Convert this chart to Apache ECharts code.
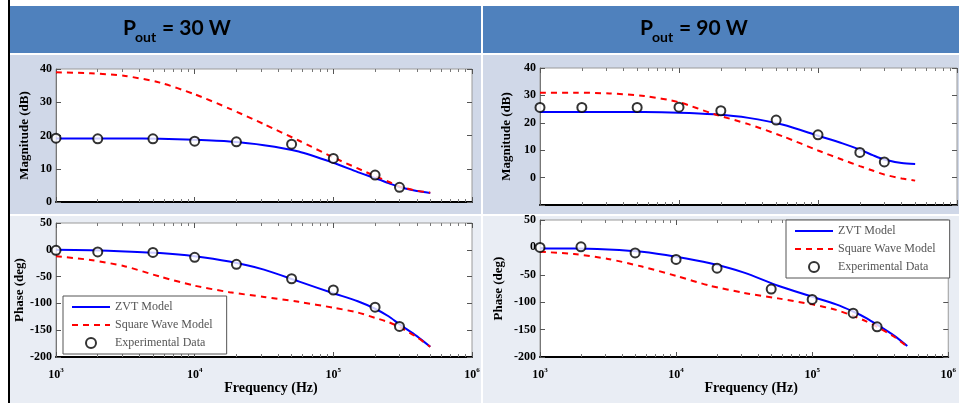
<!DOCTYPE html>
<html>
<head>
<meta charset="utf-8">
<script src="https://cdn.jsdelivr.net/npm/echarts@6/dist/echarts.min.js"></script>
<style>
  html, body { margin: 0; padding: 0; background: #fff; }
  #chart { width: 959px; height: 403px; }
</style>
</head>
<body>
<div id="chart"></div>
<script>
// frequencies (Hz)
var freqModel = [1000, 1780, 3160, 5620, 10000, 17800, 31600, 56200, 100000,
                 150000, 200000, 250000, 300000, 400000, 500000];
var freqExp = [1000, 2000, 5000, 10000, 20000, 50000, 100000, 200000, 300000];

// Pout = 30 W
var zvtMag30 = [19.1, 19.1, 19.1, 19.0, 18.7, 18.2, 17.1, 15.2, 11.8, 9.0, 7.2, 5.7, 4.5, 3.3, 2.7];
var sqMag30  = [39.0, 38.7, 37.9, 35.9, 32.4, 28.1, 23.4, 18.5, 13.4, 10.1, 7.8, 6.1, 4.7, 3.4, 2.8];
var expMag30 = [19.2, 19.0, 19.0, 18.3, 18.1, 17.4, 13.1, 8.1, 4.4];
var zvtPh30  = [0, -1, -3, -6, -12, -22, -37, -59, -81, -96, -110, -124, -139, -161, -181];
var sqPh30   = [-12, -19, -31, -50, -67, -79, -88, -97, -108, -117, -127, -135, -144, -163, -181];
var expPh30  = [-1, -4, -5, -14, -27, -54, -75, -107, -143];

// Pout = 90 W
var zvtMag90 = [23.9, 23.9, 23.9, 23.9, 23.7, 23.1, 21.8, 19.3, 15.3, 12.5, 10.2, 8.1, 6.6, 5.3, 5.0];
var sqMag90  = [31.0, 31.0, 30.7, 29.8, 27.5, 23.2, 19.5, 15.0, 9.9, 6.5, 4.2, 2.5, 1.1, -0.3, -1.1];
var expMag90 = [25.6, 25.6, 25.6, 25.7, 24.4, 21.0, 15.6, 9.2, 5.7];
var zvtPh90  = [-2, -2, -4, -8, -17, -29, -46, -70, -90, -104, -117, -129, -141, -161, -180];
var sqPh90   = [-8, -12, -21, -35, -52, -70, -83, -93, -104, -114, -125, -135, -145, -163, -181];
var expPh90  = [0, 1, -10, -22, -38, -76, -95, -120, -145];

var seriesNames = ['ZVT Model', 'Square Wave Model', 'Experimental Data'];
var headers = ['30 W', '90 W'];

function pairs(xs, ys) {
    return xs.map(function (x, i) { return [x, ys[i]]; });
}

// minor tick positions (log10 units) for 2..9 in each decade
var minorTicks = [];
for (var d = 3; d < 6; d++) {
    for (var k = 2; k <= 9; k++) minorTicks.push(Math.log10(k * Math.pow(10, d)));
}

var serif = 'Liberation Serif';

var panels = [
    { left: 56,  top: 69,  width: 416, height: 133, yMin: 0,    yMax: 40, yStep: 10, yName: 'Magnitude (dB)', nameGap: 25, xLabels: false,
      zvt: zvtMag30, sq: sqMag30, exp: expMag30 },
    { left: 56,  top: 223, width: 416, height: 134, yMin: -200, yMax: 50, yStep: 50, yName: 'Phase (deg)', nameGap: 25, xLabels: true,
      zvt: zvtPh30, sq: sqPh30, exp: expPh30 },
    { left: 540, top: 68,  width: 417, height: 137, yMin: -10,  yMax: 40, yStep: 10, yName: 'Magnitude (dB)', nameGap: 27, xLabels: false,
      zvt: zvtMag90, sq: sqMag90, exp: expMag90 },
    { left: 540, top: 220, width: 417, height: 137, yMin: -200, yMax: 50, yStep: 50, yName: 'Phase (deg)', nameGap: 35, xLabels: true,
      zvt: zvtPh90, sq: sqPh90, exp: expPh90 }
];

var grids = [], xAxes = [], yAxes = [], series = [];

panels.forEach(function (p, i) {
    grids.push({
        left: p.left, top: p.top, width: p.width, height: p.height,
        show: true, backgroundColor: '#fff', borderColor: '#9a9a9a', borderWidth: 1
    });
    // main log axis
    xAxes.push({
        type: 'log', logBase: 10, gridIndex: i, min: 1000, max: 1000000, position: 'bottom',
        axisLine: { onZero: false, lineStyle: { color: '#000', width: 2 } },
        axisTick: { inside: true, length: 5, lineStyle: { color: '#555' } },
        splitLine: { show: false },
        axisLabel: {
            show: p.xLabels, margin: 10,
            formatter: function (v) { return '{b|10}{s|' + Math.round(Math.log10(v)) + '}'; },
            rich: {
                b: { fontFamily: serif, fontWeight: 'bold', fontSize: 12, color: '#000' },
                s: { fontFamily: serif, fontWeight: 'bold', fontSize: 7, color: '#000', padding: [0, 0, 8, 0] }
            }
        },
        name: p.xLabels ? 'Frequency (Hz)' : '', nameLocation: 'middle', nameGap: 22,
        nameTextStyle: { fontFamily: serif, fontWeight: 'bold', fontSize: 14, color: '#000', padding: [0, 0, 0, 14] }
    });
    // bottom minor ticks
    xAxes.push({
        type: 'value', gridIndex: i, min: 3, max: 6, position: 'bottom',
        axisLine: { show: false, onZero: false },
        axisTick: { inside: true, length: 3, customValues: minorTicks, lineStyle: { color: '#777' } },
        axisLabel: { show: false }, splitLine: { show: false }
    });
    // top major ticks
    xAxes.push({
        type: 'value', gridIndex: i, min: 3, max: 6, interval: 1, position: 'top',
        axisLine: { show: false, onZero: false },
        axisTick: { inside: true, length: 5, lineStyle: { color: '#555' } },
        axisLabel: { show: false }, splitLine: { show: false }
    });
    // top minor ticks
    xAxes.push({
        type: 'value', gridIndex: i, min: 3, max: 6, position: 'top',
        axisLine: { show: false, onZero: false },
        axisTick: { inside: true, length: 3, customValues: minorTicks, lineStyle: { color: '#777' } },
        axisLabel: { show: false }, splitLine: { show: false }
    });
    yAxes.push({
        type: 'value', gridIndex: i, min: p.yMin, max: p.yMax, interval: p.yStep, position: 'left',
        axisLine: { show: true, onZero: false, lineStyle: { color: '#777', width: 1 } },
        axisTick: { inside: true, length: 5, lineStyle: { color: '#555' } },
        splitLine: { show: false },
        axisLabel: {
            margin: 4, fontFamily: serif, fontWeight: 'bold', fontSize: 12, color: '#000',
            formatter: function (v) { return v === -10 ? '' : String(v); }
        },
        name: p.yName, nameLocation: 'middle', nameGap: p.nameGap,
        nameTextStyle: { fontFamily: serif, fontWeight: 'bold', fontSize: 13, color: '#000' }
    });
    yAxes.push({
        type: 'value', gridIndex: i, min: p.yMin, max: p.yMax, interval: p.yStep, position: 'right',
        axisLine: { show: false, onZero: false },
        axisTick: { inside: true, length: 5, lineStyle: { color: '#555' } },
        axisLabel: { show: false }, splitLine: { show: false }
    });

    series.push({
        name: seriesNames[0], type: 'line', xAxisIndex: i * 4, yAxisIndex: i * 2,
        data: pairs(freqModel, p.zvt), symbol: 'none', smooth: 0.25,
        lineStyle: { color: '#0000ff', width: 2 }, itemStyle: { color: '#0000ff' }, z: 2
    });
    series.push({
        name: seriesNames[1], type: 'line', xAxisIndex: i * 4, yAxisIndex: i * 2,
        data: pairs(freqModel, p.sq), symbol: 'none', smooth: 0.25,
        lineStyle: { color: '#ff0000', width: 2, type: [6, 5] }, itemStyle: { color: '#ff0000' }, z: 3
    });
    series.push({
        name: seriesNames[2], type: 'scatter', xAxisIndex: i * 4, yAxisIndex: i * 2,
        data: pairs(freqExp, p.exp), symbol: 'circle', symbolSize: 9,
        itemStyle: { color: '#fff', borderColor: '#000', borderWidth: 2 }, z: 4
    });
});

function legendAt(left, top) {
    return {
        left: left, top: top, orient: 'vertical',
        data: [
            { name: seriesNames[0], itemStyle: { opacity: 0 } },
            { name: seriesNames[1], itemStyle: { opacity: 0 } },
            { name: seriesNames[2] }
        ],
        backgroundColor: '#fff', borderColor: '#555', borderWidth: 1, borderRadius: 0,
        padding: [5, 14, 5, 8], itemWidth: 38, itemHeight: 10, itemGap: 6,
        textStyle: { fontFamily: serif, fontSize: 12, color: '#555' }
    };
}

function headerText(x, label) {
    var font = { fontFamily: 'Lato', fontWeight: 'bold', fill: '#000' };
    return [
        { type: 'text', left: x, top: 18, style: Object.assign({ text: 'P', fontSize: 21 }, font) },
        { type: 'text', left: x + 12, top: 30, style: Object.assign({ text: 'out', fontSize: 14 }, font) },
        { type: 'text', left: x + 39, top: 18, style: Object.assign({ text: '= ' + label, fontSize: 21 }, font) }
    ];
}

var graphics = [
    { type: 'rect', shape: { x: 10, y: 6, width: 949, height: 47 }, style: { fill: '#4F81BD' }, z: -10 },
    { type: 'rect', shape: { x: 10, y: 55, width: 949, height: 159 }, style: { fill: '#D0D8E8' }, z: -10 },
    { type: 'rect', shape: { x: 10, y: 216, width: 949, height: 187 }, style: { fill: '#E9EDF4' }, z: -10 },
    { type: 'rect', shape: { x: 481, y: 6, width: 2, height: 397 }, style: { fill: '#fff' }, z: -9 },
    { type: 'rect', shape: { x: 8, y: 0, width: 2, height: 403 }, style: { fill: '#000' }, z: -9 }
].concat(headerText(123, headers[0]), headerText(640, headers[1]));

var chart = echarts.init(document.getElementById('chart'));
chart.setOption({
    backgroundColor: '#fff',
    animation: false,
    graphic: graphics,
    grid: grids,
    xAxis: xAxes,
    yAxis: yAxes,
    legend: [legendAt(63, 296), legendAt(786, 220)],
    series: series
});
</script>
</body>
</html>
